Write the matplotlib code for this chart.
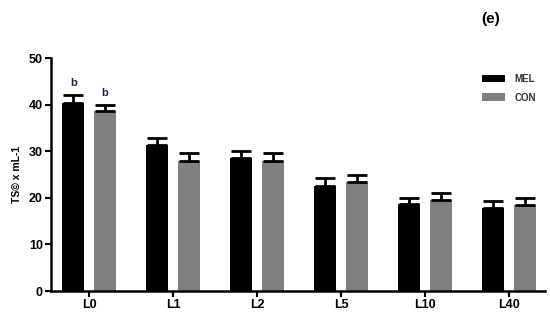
import numpy as np
import matplotlib.pyplot as plt

# data
groups = ["L0", "L1", "L2", "L5", "L10", "L40"]
mel = [40.3, 31.3, 28.5, 22.6, 18.6, 17.9]
mel_err = [1.7, 1.5, 1.5, 1.6, 1.3, 1.5]
con = [38.6, 27.9, 27.9, 23.3, 19.5, 18.4]
con_err = [1.3, 1.7, 1.7, 1.6, 1.5, 1.5]
letters_mel = ["b", "", "", "", "", ""]
letters_con = ["b", "", "", "", "", ""]

plt.rcParams['font.family'] = ['Liberation Sans', 'DejaVu Sans']

fig = plt.figure(figsize=(5.5, 3.17), dpi=100)
ax = fig.add_axes([0.093, 0.082, 0.898, 0.735])

x = np.arange(len(groups))
w = 0.26
off = 0.187

ax.bar(x - off, mel, w, color="black", label="MEL", zorder=2)
ax.bar(x + off, con, w, color="#808080", label="CON", zorder=2)

# one-sided error bars (upper only)
ax.errorbar(x - off, mel, yerr=[np.zeros(len(mel)), mel_err], fmt="none",
            ecolor="black", elinewidth=2, capsize=7, capthick=2, zorder=3)
ax.errorbar(x + off, con, yerr=[np.zeros(len(con)), con_err], fmt="none",
            ecolor="black", elinewidth=2, capsize=7, capthick=2, zorder=3)

for i in range(len(groups)):
    if letters_mel[i]:
        ax.text(x[i] - off, mel[i] + mel_err[i] + 1.6, letters_mel[i],
                ha="center", va="bottom", fontsize=8, fontweight="bold", color="#1c1c3c")
    if letters_con[i]:
        ax.text(x[i] + off, con[i] + con_err[i] + 1.6, letters_con[i],
                ha="center", va="bottom", fontsize=8, fontweight="bold", color="#1c1c3c")

ax.set_xlim(-0.45, 5.43)
ax.set_ylim(0, 50)
ax.set_yticks([0, 10, 20, 30, 40, 50])
ax.set_xticks(x)
ax.set_xticklabels(groups, fontweight="bold", fontsize=9)
for lab in ax.get_yticklabels():
    lab.set_fontweight("bold")
    lab.set_fontsize(9)
ax.tick_params(axis="both", direction="out", width=1.5, length=4, pad=2)

ax.spines["top"].set_visible(False)
ax.spines["right"].set_visible(False)
ax.spines["left"].set_linewidth(1.8)
ax.spines["bottom"].set_linewidth(1.8)

ax.set_ylabel("TS\u00a9 x mL-1", fontsize=7.5, fontweight="bold", labelpad=5)

leg = ax.legend(loc="upper right", bbox_to_anchor=(1.0, 0.97), frameon=False,
                fontsize=7, handlelength=2.4, handleheight=0.8, labelspacing=0.9,
                handletextpad=1.0)
for t in leg.get_texts():
    t.set_fontweight("bold")
    t.set_color("#333333")

fig.text(0.875, 0.94, "(e)", fontsize=11, fontweight="bold", ha="left", va="center")

fig.savefig("out.png", dpi=100)
